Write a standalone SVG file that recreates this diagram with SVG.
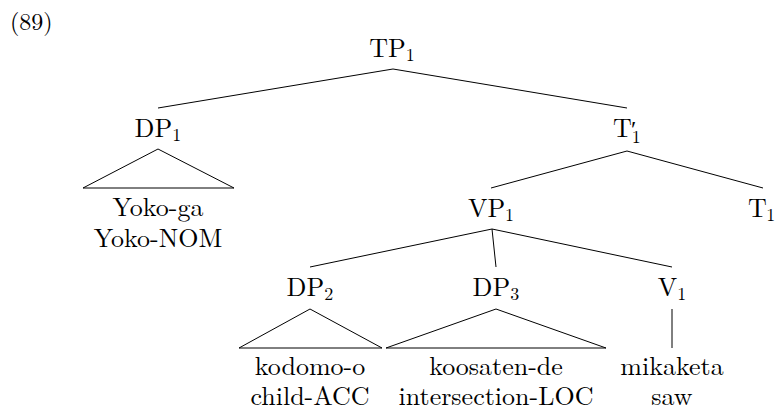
<svg xmlns="http://www.w3.org/2000/svg" width="775" height="408" viewBox="0 0 775 408" font-family="Latin Modern Roman, Liberation Serif, serif">
<style>
.lab{font-size:26px}
.sub{font-size:18px}
.leaf{font-size:26px}
.edge{stroke:#000;stroke-width:1;fill:none;stroke-linejoin:miter}
</style>
<rect width="775" height="408" fill="#fff"/>
<text font-family="Latin Modern Roman, Liberation Serif, serif" font-size="24" x="10" y="30">(89)</text>
<g id="connectors">
<line class="edge" x1="393" y1="69" x2="158" y2="108"/>
<line class="edge" x1="393" y1="69" x2="627" y2="108"/>
<polygon class="edge" points="158,149 83,188 234,188"/>
<line class="edge" x1="627" y1="151" x2="491" y2="188"/>
<line class="edge" x1="627" y1="151" x2="763" y2="188"/>
<line class="edge" x1="492" y1="229" x2="310" y2="267"/>
<line class="edge" x1="492" y1="229" x2="496" y2="267"/>
<line class="edge" x1="492" y1="229" x2="672" y2="267"/>
<polygon class="edge" points="310,309 239,348 382,348"/>
<polygon class="edge" points="496,309 386,348 606,348"/>
<line class="edge" x1="672" y1="309" x2="672" y2="348"/>
</g>
<g id="TP1" font-family="Latin Modern Roman, Liberation Serif, serif"><text y="57"><tspan class="lab" x="387.5" text-anchor="middle">TP</tspan><tspan class="sub" x="405.7" dy="4">1</tspan></text></g>
<g id="DP1" font-family="Latin Modern Roman, Liberation Serif, serif"><text y="137"><tspan class="lab" x="153.4" text-anchor="middle">DP</tspan><tspan class="sub" x="172.2" dy="4">1</tspan></text></g>
<g id="DP1-leaf" font-family="Latin Modern Roman, Liberation Serif, serif">
<text class="leaf" x="158" y="216" text-anchor="middle">Yoko-ga</text>
<text class="leaf" x="158" y="247" text-anchor="middle">Yoko-NOM</text>
</g>
<g id="Tbar1" font-family="Latin Modern Roman, Liberation Serif, serif"><text y="137"><tspan class="lab" x="622.4" text-anchor="middle">T</tspan><tspan x="631" font-size="24px">′</tspan><tspan class="sub" x="631.8" dy="6">1</tspan></text></g>
<g id="VP1" font-family="Latin Modern Roman, Liberation Serif, serif"><text y="217"><tspan class="lab" x="486.5" text-anchor="middle">VP</tspan><tspan class="sub" x="505.1" dy="4">1</tspan></text></g>
<g id="T1" font-family="Latin Modern Roman, Liberation Serif, serif"><text y="217"><tspan class="lab" x="757.5" text-anchor="middle">T</tspan><tspan class="sub" x="766.2" dy="4">1</tspan></text></g>
<g id="DP2" font-family="Latin Modern Roman, Liberation Serif, serif"><text y="296"><tspan class="lab" x="305.4" text-anchor="middle">DP</tspan><tspan class="sub" x="324.2" dy="4">2</tspan></text></g>
<g id="DP2-leaf" font-family="Latin Modern Roman, Liberation Serif, serif">
<text class="leaf" x="310" y="375" text-anchor="middle">kodomo-o</text>
<text class="leaf" x="310" y="405" text-anchor="middle">child-ACC</text>
</g>
<g id="DP3" font-family="Latin Modern Roman, Liberation Serif, serif"><text y="296"><tspan class="lab" x="491.4" text-anchor="middle">DP</tspan><tspan class="sub" x="510.2" dy="4">3</tspan></text></g>
<g id="DP3-leaf" font-family="Latin Modern Roman, Liberation Serif, serif">
<text class="leaf" x="496" y="375" text-anchor="middle">koosaten-de</text>
<text class="leaf" x="496" y="405" text-anchor="middle">intersection-LOC</text>
</g>
<g id="V1" font-family="Latin Modern Roman, Liberation Serif, serif"><text y="296"><tspan class="lab" x="667.5" text-anchor="middle">V</tspan><tspan class="sub" x="677.2" dy="4">1</tspan></text></g>
<g id="V1-leaf" font-family="Latin Modern Roman, Liberation Serif, serif">
<text class="leaf" x="672" y="375" text-anchor="middle">mikaketa</text>
<text class="leaf" x="672" y="405" text-anchor="middle">saw</text>
</g>
</svg>
